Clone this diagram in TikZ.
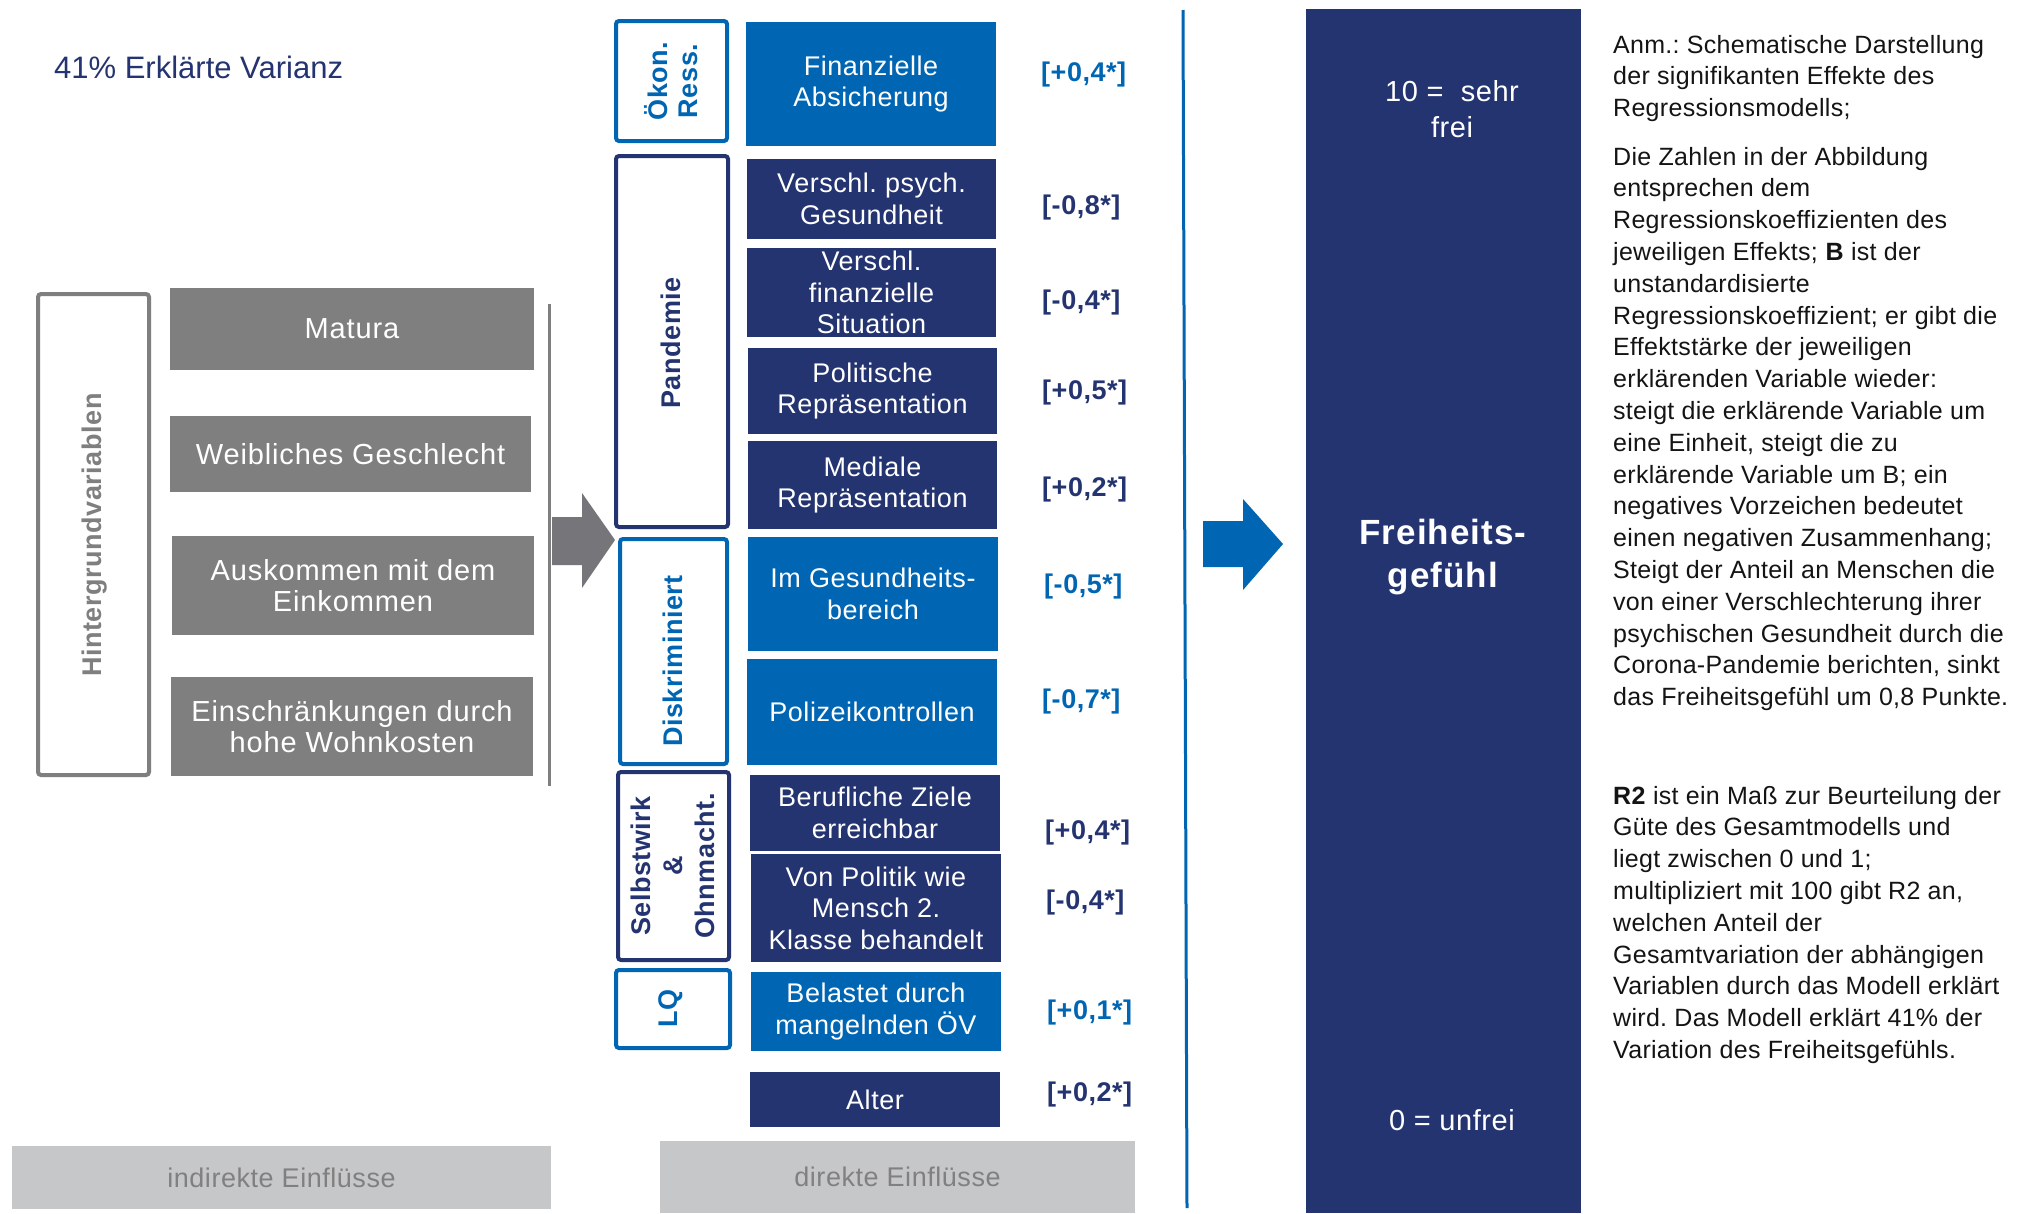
\documentclass[tikz,border=0pt]{standalone}
\usepackage{fontspec}
\setmainfont{Liberation Sans}
\newfontfamily\bxf[LetterSpace=2]{Liberation Sans}
\newfontfamily\gxf[LetterSpace=3]{Liberation Sans}
\newfontfamily\rxf[LetterSpace=1.2]{Liberation Sans}
\definecolor{navy}{RGB}{36,52,112}
\definecolor{lblue}{RGB}{0,102,179}
\definecolor{boxgray}{RGB}{127,127,127}
\definecolor{arrowgray}{RGB}{118,118,122}
\definecolor{lgray}{RGB}{198,199,201}
\definecolor{midgray}{RGB}{128,128,128}
\definecolor{notetext}{RGB}{20,20,20}
\frenchspacing
\begin{document}
\begin{tikzpicture}[x=1pt,y=-1pt,
  fillbox/.style={inner sep=0pt, align=center, text=white, font=\bxf\fontsize{27}{31.5}\selectfont},
  navybox/.style={fillbox, fill=navy},
  bluebox/.style={fillbox, fill=lblue},
  graybox/.style={inner sep=0pt, align=center, text=white, fill=boxgray, font=\gxf\fontsize{29}{31.5}\selectfont},
  grp/.style={draw, line width=4pt, rounded corners=3pt, inner sep=0pt},
  grplabel/.style={rotate=90, align=center, inner sep=0pt, font=\bxf\bfseries\fontsize{27}{30}\selectfont},
  val/.style={anchor=west, inner sep=0pt, font=\bxf\bfseries\fontsize{27}{32}\selectfont},
  note/.style={anchor=base west, inner sep=0pt, align=left, text=notetext, font=\rxf\fontsize{25}{31.8}\selectfont},
  einfl/.style={inner sep=0pt, fill=lgray, text=midgray, font=\bxf\fontsize{27}{32}\selectfont}
]
\useasboundingbox[fill=white] (0,0) rectangle (2018,1213);

% title
\node[anchor=west, inner sep=0pt, text=navy, font=\fontsize{31}{36}\selectfont] (title) at (54,67) {41\% Erklärte Varianz};

% background variables
\node[grp, draw=boxgray, minimum width=111, minimum height=481] (hgbox) at (93.5,534.5) {};
\node[grplabel, text=boxgray] (hglabel) at (95,535) {Hintergrundvariablen};
\node[graybox, minimum width=364, minimum height=82] (matura) at (352,329) {Matura};
\node[graybox, minimum width=361, minimum height=76] (weibl) at (350.5,454) {Weibliches Geschlecht};
\node[graybox, minimum width=362, minimum height=99] (ausk) at (353,585.5) {Auskommen mit dem\\Einkommen};
\node[graybox, minimum width=362, minimum height=99] (einschr) at (352,726.5) {Einschränkungen durch\\hohe Wohnkosten};
\draw[boxgray, line width=3pt] (549,304) -- (549,786);

% gray block arrow
\fill[arrowgray] (552,517) -- (582,517) -- (582,493) -- (615,540) -- (582,588) -- (582,565) -- (552,565) -- cycle;

% group frames
\node[grp, draw=lblue, minimum width=111, minimum height=120] (oekon) at (671.5,81) {};
\node[grp, draw=navy, minimum width=112, minimum height=371] (pand) at (672,341.5) {};
\node[grp, draw=lblue, minimum width=107, minimum height=225] (diskr) at (673.5,651.5) {};
\node[grp, draw=navy, minimum width=111, minimum height=188] (selbst) at (673.5,866) {};
\node[grp, draw=lblue, minimum width=114, minimum height=78] (lq) at (673,1009) {};

\node[grplabel, text=lblue] (oekonl) at (671.5,81) {Ökon.\\Ress.};
\node[grplabel, text=navy] (pandl) at (671,343) {Pandemie};
\node[grplabel, text=lblue] (diskrl) at (673,661) {Diskriminiert};
\node[grplabel, text=navy, font=\bxf\bfseries\fontsize{27}{32}\selectfont] (selbstl) at (673,866) {Selbstwirk\\\&\\Ohnmacht.};
\node[grplabel, text=lblue] (lql) at (671,1008) {LQ};

% direct effects
\node[bluebox, minimum width=250, minimum height=124] (fin) at (871,84) {Finanzielle\\Absicherung};
\node[navybox, minimum width=249, minimum height=80] (psych) at (871.5,199) {Verschl. psych.\\Gesundheit};
\node[navybox, minimum width=249, minimum height=89] (finsit) at (871.5,292.5) {Verschl.\\finanzielle\\Situation};
\node[navybox, minimum width=249, minimum height=86] (polit) at (872.5,391) {Politische\\Repräsentation};
\node[navybox, minimum width=249, minimum height=88] (medial) at (872.5,485) {Mediale\\Repräsentation};
\node[bluebox, minimum width=250, minimum height=114] (gesund) at (873,594) {Im Gesundheits-\\bereich};
\node[bluebox, minimum width=250, minimum height=106] (polizei) at (872,712) {Polizeikontrollen};
\node[navybox, minimum width=250, minimum height=76] (beruf) at (875,813) {Berufliche Ziele\\erreichbar};
\node[navybox, minimum width=250, minimum height=108] (vonpol) at (876,908) {Von Politik wie\\Mensch 2.\\Klasse behandelt};
\node[bluebox, minimum width=250, minimum height=79] (belast) at (876,1011.5) {Belastet durch\\mangelnden ÖV};
\node[navybox, minimum width=250, minimum height=55] (alter) at (875,1099.5) {Alter};

% coefficients
\node[val, text=lblue] (v1) at (1041,75) {[+0,4*]};
\node[val, text=navy] (v2) at (1042,208) {[-0,8*]};
\node[val, text=navy] (v3) at (1042,303) {[-0,4*]};
\node[val, text=navy] (v4) at (1042,393) {[+0,5*]};
\node[val, text=navy] (v5) at (1042,490) {[+0,2*]};
\node[val, text=lblue] (v6) at (1044,587) {[-0,5*]};
\node[val, text=lblue] (v7) at (1042,702) {[-0,7*]};
\node[val, text=navy] (v8) at (1045,833) {[+0,4*]};
\node[val, text=navy] (v9) at (1046,903) {[-0,4*]};
\node[val, text=lblue] (v10) at (1047,1013) {[+0,1*]};
\node[val, text=navy] (v11) at (1047,1095) {[+0,2*]};

% bottom labels
\node[einfl, minimum width=539, minimum height=63] (indir) at (281.5,1177.5) {indirekte Einflüsse};
\node[einfl, minimum width=475, minimum height=72] (dir) at (897.5,1177) {direkte Einflüsse};

% separator and blue block arrow
\draw[lblue, line width=3pt] (1183,10) -- (1187,1208);
\fill[lblue] (1203,521) -- (1243,521) -- (1243,499) -- (1283,544) -- (1243,590) -- (1243,567) -- (1203,567) -- cycle;

% outcome
\node[fill=navy, inner sep=0pt, minimum width=275, minimum height=1204] (outcome) at (1443.5,611) {};
\node[inner sep=0pt, align=center, text=white, font=\bxf\fontsize{29}{35.6}\selectfont] (top) at (1452,109) {10 =~~sehr\\frei};
\node[inner sep=0pt, align=center, text=white, font=\gxf\bfseries\fontsize{35}{43}\selectfont] (freih) at (1443,557) {Freiheits-\\gefühl};
\node[inner sep=0pt, align=center, text=white, font=\bxf\fontsize{29}{35}\selectfont] (bottom) at (1452,1120) {0 = unfrei};

% notes (anchored at the baseline of their last line)
\node[note] (n1) at (1613,116.6) {Anm.: Schematische Darstellung\\der signifikanten Effekte des\\Regressionsmodells;};
\node[note] (n2) at (1613,705.6) {Die Zahlen in der Abbildung\\entsprechen dem\\Regressionskoeffizienten des\\jeweiligen Effekts; \textbf{B} ist der\\unstandardisierte\\Regressionskoeffizient; er gibt die\\Effektstärke der jeweiligen\\erklärenden Variable wieder:\\steigt die erklärende Variable um\\eine Einheit, steigt die zu\\erklärende Variable um B; ein\\negatives Vorzeichen bedeutet\\einen negativen Zusammenhang;\\Steigt der Anteil an Menschen die\\von einer Verschlechterung ihrer\\psychischen Gesundheit durch die\\Corona-Pandemie berichten, sinkt\\das Freiheitsgefühl um 0,8 Punkte.};
\node[note] (n3) at (1613,1058.4) {\textbf{R2} ist ein Maß zur Beurteilung der\\Güte des Gesamtmodells und\\liegt zwischen 0 und 1;\\multipliziert mit 100 gibt R2 an,\\welchen Anteil der\\Gesamtvariation der abhängigen\\Variablen durch das Modell erklärt\\wird. Das Modell erklärt 41\% der\\Variation des Freiheitsgefühls.};
\end{tikzpicture}
\end{document}
